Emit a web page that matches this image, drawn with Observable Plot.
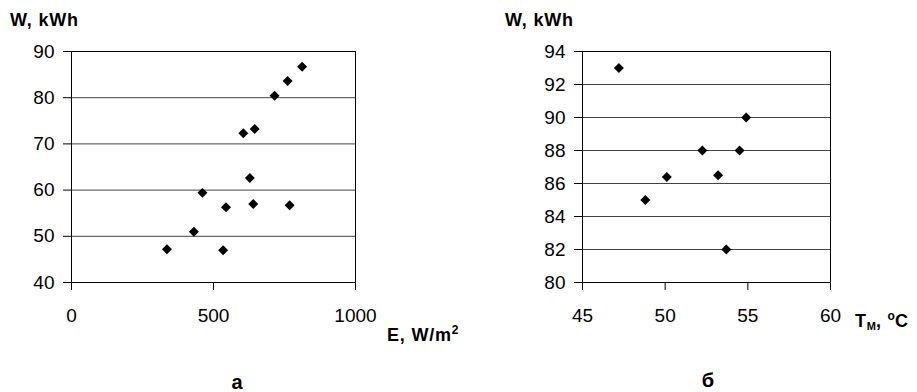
<!DOCTYPE html>
<html>
<head>
<meta charset="utf-8">
<script src="https://cdn.jsdelivr.net/npm/d3@7"></script>
<script src="https://cdn.jsdelivr.net/npm/@observablehq/plot@0.6"></script>
<style>
  html, body { margin: 0; padding: 0; background: #fff; }
  #wrap { position: relative; width: 917px; height: 392px; overflow: hidden; background: #fff; }
  #wrap svg { position: absolute; top: 0; }
  .lbl { position: absolute; font-family: "Liberation Sans", Arial, sans-serif; font-weight: bold;
         font-size: 18px; line-height: 18px; letter-spacing: 0.8px; color: #000; white-space: nowrap; }
  .lbl sup { font-size: 12px; line-height: 0; vertical-align: 7px; letter-spacing: 0; }
  .lbl sub { font-size: 11px; line-height: 0; vertical-align: -3px; letter-spacing: 0; }
  .cap { position: absolute; font-family: "Liberation Sans", Arial, sans-serif; font-weight: bold;
         font-size: 20px; line-height: 16px; text-align: center; width: 100px; color: #000; }
</style>
</head>
<body>
<div id="wrap"></div>
<script>
// Panel а: irradiance E (W/m2) vs energy W (kWh)
const aE = [336, 431, 461, 534, 544, 605, 645, 628, 640, 715, 761, 768, 812];
const aW = [47.2, 51.0, 59.4, 47.0, 56.3, 72.3, 73.2, 62.6, 57.0, 80.4, 83.6, 56.7, 86.7];
const aXTicks = [0, 500, 1000];
const aYTicks = [40, 50, 60, 70, 80, 90];

// Panel б: module temperature T_M (°C) vs energy W (kWh)
const bT = [47.2, 48.8, 50.1, 52.25, 53.2, 53.7, 54.5, 54.9];
const bW = [93.0, 85.0, 86.4, 88.0, 86.5, 82.0, 88.0, 90.0];
const bXTicks = [45, 50, 55, 60];
const bYTicks = [80, 82, 84, 86, 88, 90, 92, 94];

const aData = aE.map((e, i) => ({x: e, y: aW[i]}));
const bData = bT.map((t, i) => ({x: t, y: bW[i]}));

function panel(data, xDomain, xTicks, yDomain, yTicks, dims) {
  return Plot.plot({
    width: dims.width, height: 392,
    marginLeft: dims.ml, marginRight: dims.mr, marginTop: 51, marginBottom: 110,
    style: {fontFamily: "'Liberation Sans', Arial, sans-serif", fontSize: "19px", color: "#000", background: "transparent", overflow: "visible"},
    x: {domain: xDomain},
    y: {domain: yDomain},
    marks: [
      Plot.gridY(yTicks, {stroke: "#444", strokeOpacity: 1}),
      Plot.frame({stroke: "#000"}),
      Plot.axisX({ticks: xTicks, tickSize: 8, tickPadding: 18, tickFormat: d => String(d), label: null}),
      Plot.axisY({ticks: yTicks, tickSize: 8, tickPadding: 9, tickFormat: d => String(d), label: null}),
      Plot.dot(data, {x: "x", y: "y", symbol: "diamond2", fill: "#000", stroke: "none", r: 4.5})
    ]
  });
}

const wrap = document.getElementById("wrap");
const pa = panel(aData, [0, 1000], aXTicks, [40, 90], aYTicks, {width: 458, ml: 71, mr: 103});
pa.style.left = "0px";
wrap.appendChild(pa);
const pb = panel(bData, [45, 60], bXTicks, [80, 94], bYTicks, {width: 459, ml: 124, mr: 87});
pb.style.left = "458px";
wrap.appendChild(pb);

function addLabel(html, left, top, cls) {
  const d = document.createElement("div");
  d.className = cls;
  d.innerHTML = html;
  d.style.left = left + "px";
  d.style.top = top + "px";
  wrap.appendChild(d);
}
addLabel("W, kWh", 10, 10.8, "lbl");
addLabel("W, kWh", 505, 10.8, "lbl");
addLabel("E, W/m<sup>2</sup>", 387, 325.8, "lbl");
addLabel("T<sub>M</sub>, <sup>o</sup>C", 855, 311.8, "lbl");
addLabel("а", 187, 373.5, "cap");
addLabel("б", 658, 371.5, "cap");
</script>
</body>
</html>
